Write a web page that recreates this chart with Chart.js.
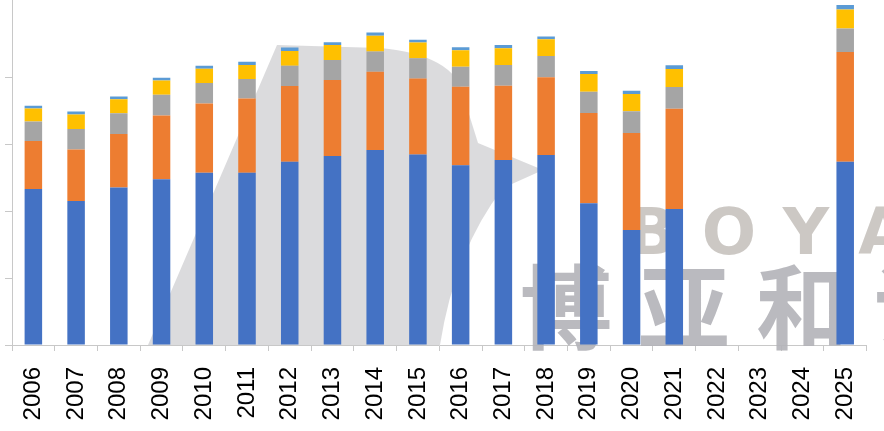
<!DOCTYPE html>
<html>
<head>
<meta charset="utf-8">
<script src="https://cdn.jsdelivr.net/npm/chart.js@4"></script>
<style>
  html, body { margin: 0; padding: 0; background: #fff; overflow: hidden; }
  #wrap { position: relative; width: 890px; height: 431px; }
</style>
</head>
<body>
<div id="wrap"><canvas id="chart"></canvas></div>
<script>
const years = ['2006','2007','2008','2009','2010','2011','2012','2013','2014','2015',
               '2016','2017','2018','2019','2020','2021','2022','2023','2024','2025'];

// stacked pieces, bottom to top (2022-2024 have no bars)
const seriesBlue   = [46.6, 43.0, 47.0, 49.5, 51.4, 51.4, 54.7, 56.4, 58.2, 56.9, 53.7, 55.2, 56.7, 42.3, 34.3, 40.6, null, null, null, 54.7];
const seriesOrange = [14.3, 15.4, 16.0, 19.0, 20.7, 22.2, 22.6, 22.7, 23.4, 22.7, 23.4, 22.2, 23.2, 27.0, 29.0, 29.9, null, null, null, 32.8];
const seriesGray   = [5.8, 6.1, 6.2, 6.2, 6.1, 5.8, 6.1, 6.0, 6.0, 6.0, 6.0, 6.2, 6.4, 6.3, 6.5, 6.5, null, null, null, 7.0];
const seriesYellow = [3.9, 4.3, 4.2, 4.3, 4.3, 4.2, 4.4, 4.5, 4.7, 4.7, 4.9, 5.0, 5.0, 5.3, 5.1, 5.4, null, null, null, 5.7];
const seriesTop    = [0.8, 0.9, 0.8, 0.8, 0.9, 1.0, 1.0, 0.8, 1.0, 0.8, 0.9, 1.0, 0.8, 0.9, 1.0, 1.1, null, null, null, 1.3];

// faint company watermark behind the bars
const watermark = {
    id: 'watermark',
    beforeDatasetsDraw(chart) {
        const ctx = chart.ctx;
        ctx.save();
        // bird silhouette
        ctx.fillStyle = 'rgba(204,204,206,0.7)';
        ctx.beginPath();
        ctx.moveTo(148, 345);
        ctx.lineTo(277, 45);
        ctx.lineTo(380, 48);
        ctx.quadraticCurveTo(455, 55, 463, 95);
        ctx.lineTo(478, 143);
        ctx.lineTo(543, 170);
        ctx.lineTo(503, 188);
        ctx.quadraticCurveTo(455, 250, 440, 345);
        ctx.closePath();
        ctx.fill();
        // lettering
        ctx.fillStyle = 'rgba(198,194,190,0.9)';
        ctx.font = 'bold 64px "DejaVu Sans", sans-serif';
        ctx.textBaseline = 'alphabetic';
        ctx.textAlign = 'center';
        ['B', 'O', 'Y', 'A'].forEach((ch, i) => ctx.fillText(ch, 652 + i * 77, 254));
        ctx.fillStyle = '#fff';
        ctx.beginPath();
        ctx.arc(729, 229, 9, 0, Math.PI * 2);
        ctx.fill();
        ctx.fillStyle = 'rgba(178,178,184,0.9)';
        ctx.font = 'bold 92px "Noto Sans CJK SC", sans-serif';
        ctx.textBaseline = 'middle';
        ['博', '亚', '和', '讯'].forEach((ch, i) => ctx.fillText(ch, 566 + i * 118, 307));
        ctx.restore();
    }
};

function bar(label, data, color) {
    return {
        label: label,
        data: data,
        backgroundColor: color,
        borderWidth: 0,
        barPercentage: 0.41,
        categoryPercentage: 1.0
    };
}

new Chart(document.getElementById('chart'), {
    type: 'bar',
    data: {
        labels: years,
        datasets: [
            bar('blue', seriesBlue, '#4472c4'),
            bar('orange', seriesOrange, '#ed7d31'),
            bar('gray', seriesGray, '#a5a5a5'),
            bar('yellow', seriesYellow, '#ffc000'),
            bar('top', seriesTop, '#5b9bd5')
        ]
    },
    options: {
        responsive: true,
        maintainAspectRatio: false,
        animation: false,
        layout: { padding: 0 },
        plugins: {
            legend: { display: false },
            tooltip: { enabled: false }
        },
        scales: {
            x: {
                stacked: true,
                grid: {
                    offset: true,
                    drawOnChartArea: false,
                    drawTicks: true,
                    tickLength: 6,
                    color: '#c8c8c8'
                },
                border: { color: '#c8c8c8' },
                ticks: {
                    minRotation: 90,
                    maxRotation: 90,
                    autoSkip: false,
                    padding: 16,
                    color: '#000',
                    font: { family: '"Liberation Sans", Arial, sans-serif', size: 24 }
                },
                afterFit: (scale) => { scale.height = 86; }
            },
            y: {
                stacked: true,
                min: 0,
                max: 103,
                grid: {
                    drawOnChartArea: false,
                    drawTicks: true,
                    tickLength: 7,
                    color: '#c8c8c8'
                },
                border: { color: '#c8c8c8' },
                ticks: { display: false, stepSize: 20 },
                afterBuildTicks: (scale) => { scale.ticks = scale.ticks.filter(t => t.value % 20 === 0); },
                afterFit: (scale) => { scale.width = 12; }
            }
        }
    },
    plugins: [watermark]
});
</script>
</body>
</html>
